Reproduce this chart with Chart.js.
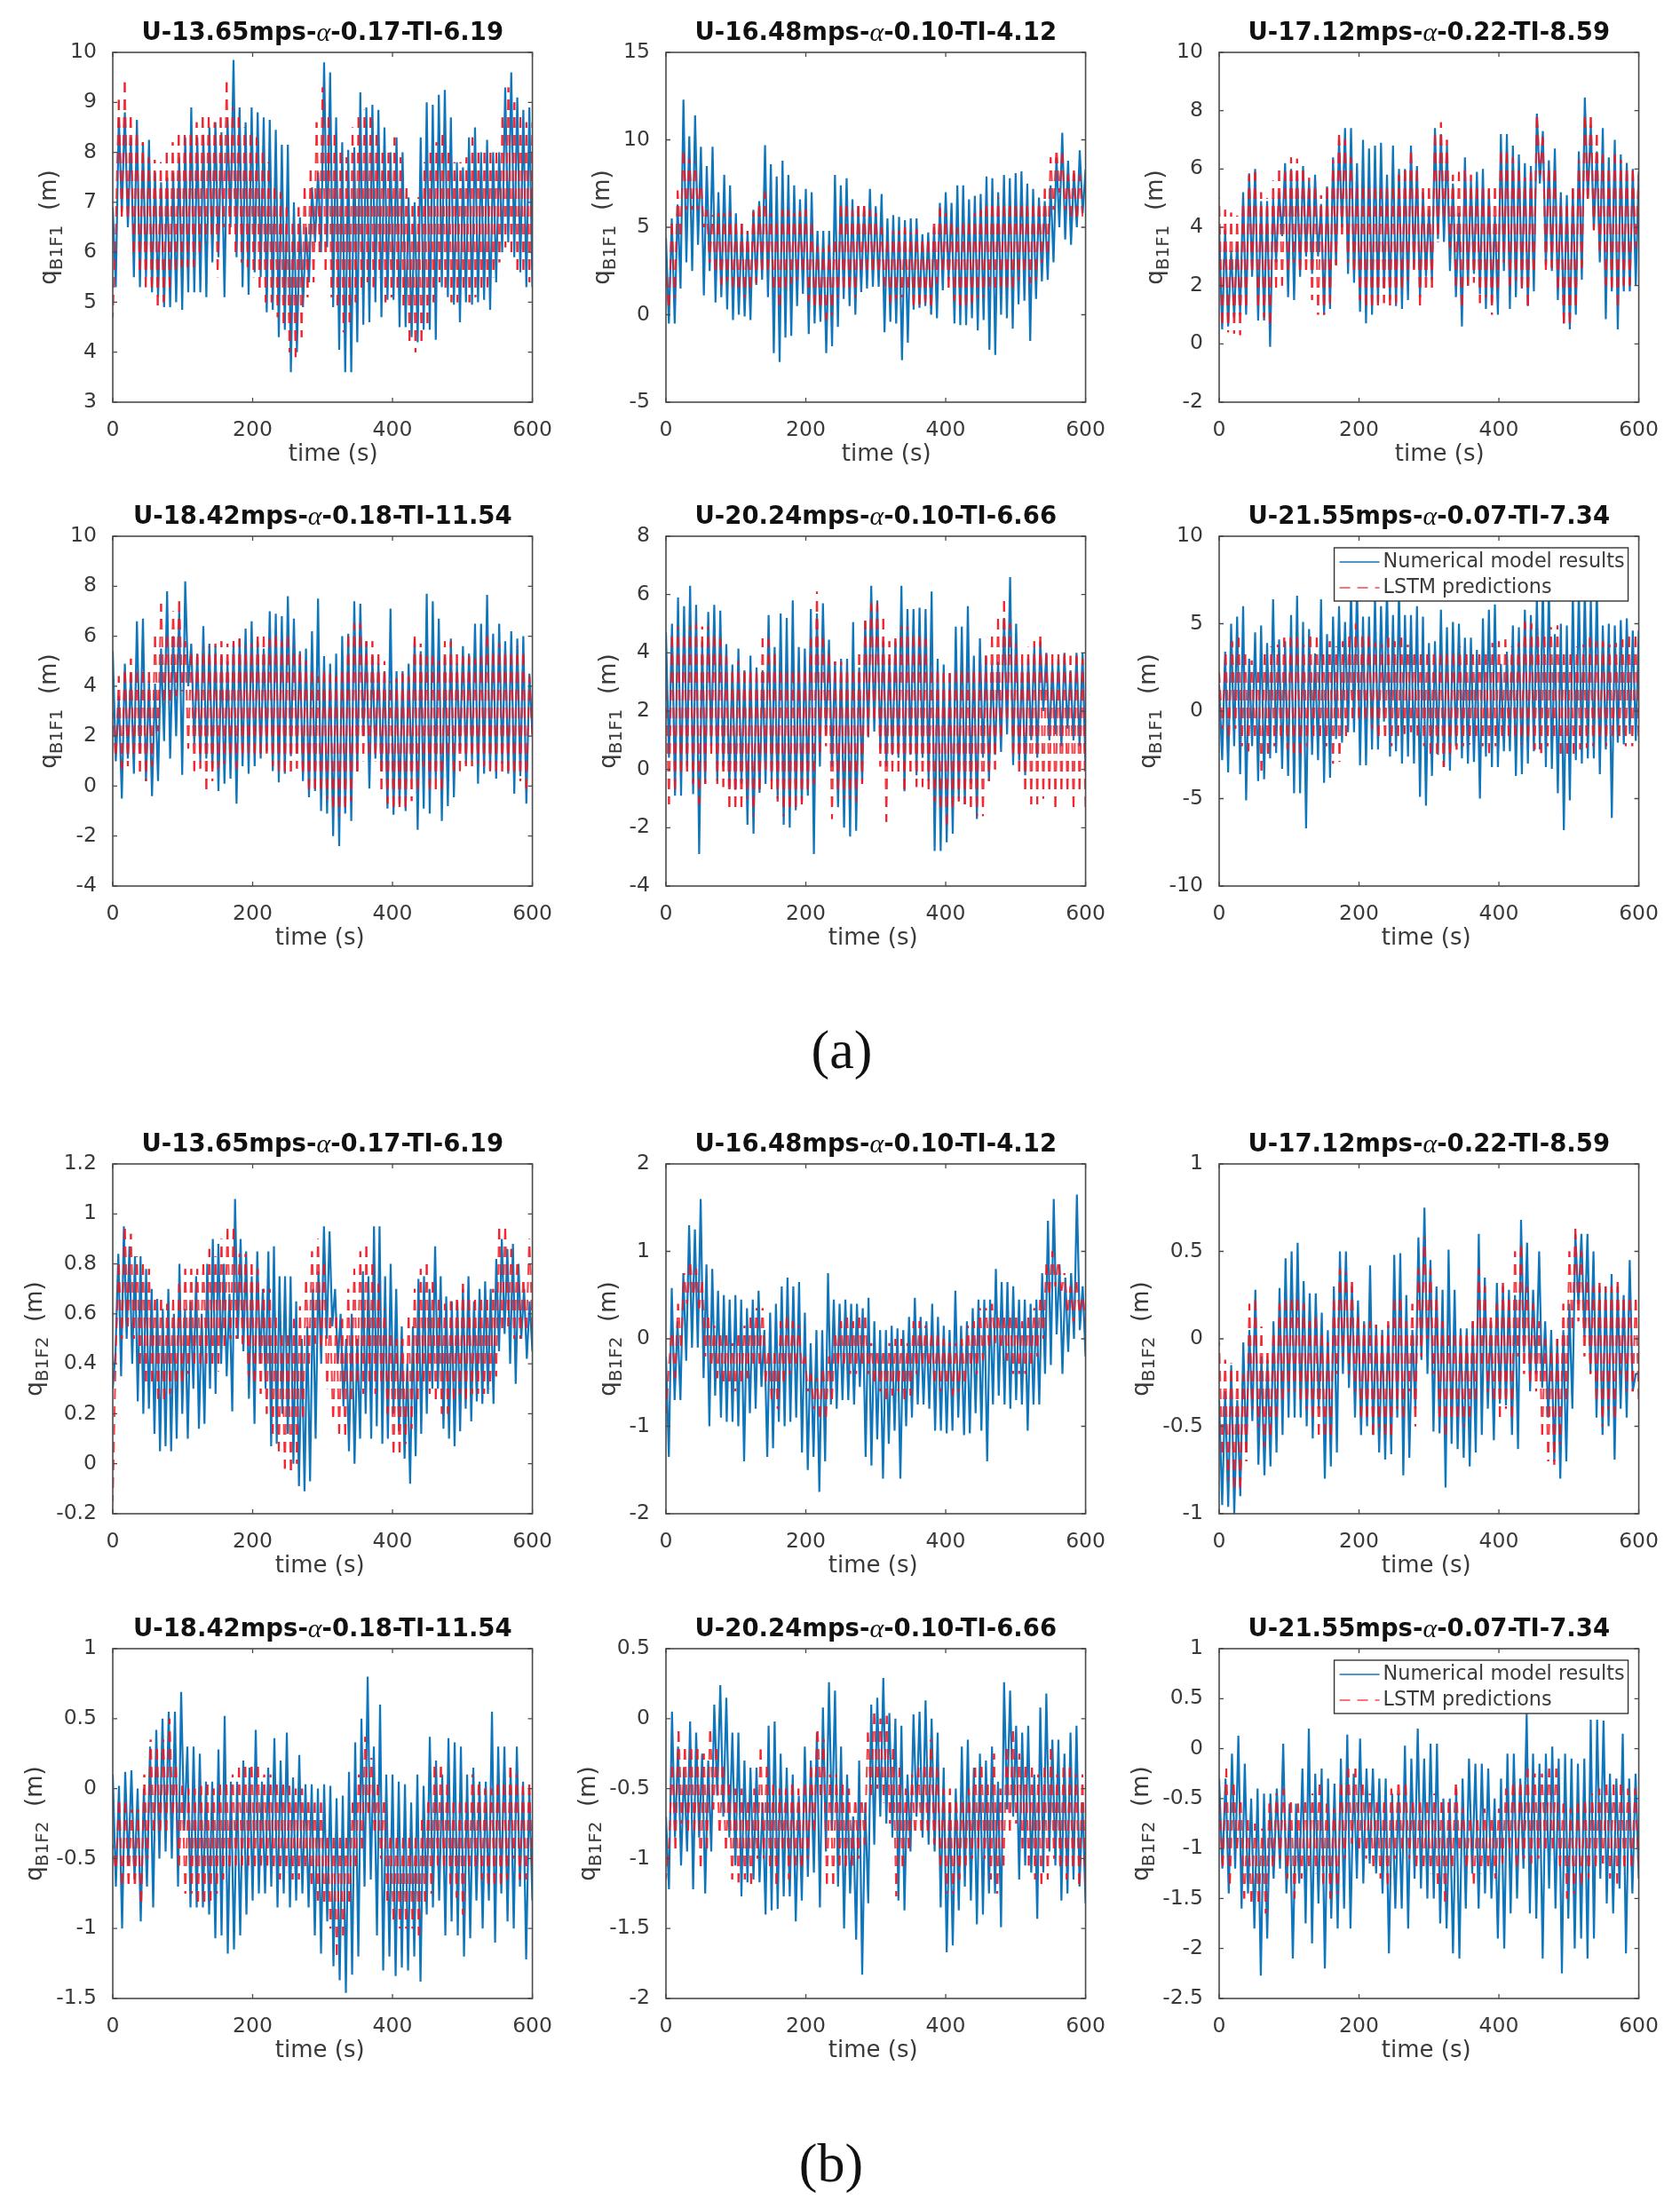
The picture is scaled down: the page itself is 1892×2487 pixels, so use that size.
<!DOCTYPE html>
<html>
<head>
<meta charset="utf-8">
<title>q B1F1 and q B1F2 time series</title>
<script src="https://cdn.jsdelivr.net/npm/chart.js@4"></script>
<style>
  html, body { margin: 0; background: #fff; }
  #page { position: relative; width: 1892px; height: 2487px; overflow: hidden; }
  #page canvas { position: absolute; filter: blur(0.6px); }
  .caption { position: absolute; font: 62px "Liberation Serif", serif; color: #111; transform: translate(-50%, -50%); }
</style>
</head>
<body>
<div id="page">
  <div class="caption" style="left:948px;top:1182px">(a)</div>
  <div class="caption" style="left:936px;top:2436px">(b)</div>
</div>
<script>
const titles = ['U-13.65mps-α-0.17-TI-6.19', 'U-16.48mps-α-0.10-TI-4.12', 'U-17.12mps-α-0.22-TI-8.59',
                'U-18.42mps-α-0.18-TI-11.54', 'U-20.24mps-α-0.10-TI-6.66', 'U-21.55mps-α-0.07-TI-7.34'];
const xTicks = [0, 200, 400, 600];
const f1YTicks = [[3,4,5,6,7,8,9,10], [-5,0,5,10,15], [-2,0,2,4,6,8,10], [-4,-2,0,2,4,6,8,10], [-4,-2,0,2,4,6,8], [-10,-5,0,5,10]];
const f2YTicks = [[-0.2,0,0.2,0.4,0.6,0.8,1,1.2], [-2,-1,0,1,2], [-1,-0.5,0,0.5,1], [-1.5,-1,-0.5,0,0.5,1], [-2,-1.5,-1,-0.5,0,0.5], [-2.5,-2,-1.5,-1,-0.5,0,0.5,1]];

const f1Model1 = [6.9,5.3, 8.7,6.8, 8.8,6.5, 8.3,5.5, 8.65,5.3, 8.2,5.5, 8.25,5.2, 7.6,5.1, 7.4,4.9, 7.5,4.9, 7.6,5.0, 7.9,4.85, 8.3,5.2, 8.9,5.2, 8.3,5.2, 8.35,5.1, 8.5,5.8, 8.6,5.9, 8.4,5.1, 8.7,6.5, 9.85,5.9, 8.9,5.3, 8.6,5.15, 8.9,5.6, 8.8,5.5, 8.7,4.8, 8.65,4.85, 8.45,4.3, 8.15,4.45, 8.15,3.6, 7.0,4.0, 6.7,4.9, 6.5,5.4, 7.3,6.2, 7.6,6.0, 9.8,6.1, 9.6,4.9, 8.7,4.05, 8.2,3.6, 8.05,3.6, 8.1,4.2, 9.2,4.55, 8.9,4.6, 8.95,5.0, 8.85,4.7, 8.5,5.05, 8.0,5.05, 8.3,4.5, 8.0,4.5, 7.1,4.3, 7.0,4.2, 8.3,4.45, 9.0,4.45, 8.95,4.25, 9.15,5.3, 9.25,5.1, 8.7,4.95, 7.8,4.6, 7.7,5.0, 8.3,4.95, 8.5,5.0, 8.0,5.05, 8.25,4.85, 8.0,5.4, 8.0,6.0, 9.3,6.2, 9.6,5.9, 9.1,5.6, 8.85,5.3, 8.9,5.3];
const f1Lstm1 = [4.7,6.4, 9.05,6.7, 9.4,6.6, 8.8,6.0, 8.5,5.6, 8.2,5.3, 7.9,5.2, 7.85,4.9, 7.8,5.0, 8.0,5.3, 8.2,5.6, 8.4,5.7, 8.35,5.7, 8.4,5.7, 8.6,6.0, 8.8,6.2, 8.75,6.3, 8.6,5.5, 8.7,6.5, 9.4,6.3, 8.9,6.0, 8.7,5.8, 8.5,5.7, 8.4,5.5, 8.3,5.2, 8.0,5.0, 7.8,5.0, 7.4,4.7, 7.2,4.5, 6.9,4.0, 6.6,3.9, 6.9,4.3, 7.4,5.1, 7.7,5.4, 8.6,6.0, 9.3,5.6, 8.8,5.1, 8.4,4.8, 8.0,4.4, 7.9,4.6, 8.5,5.0, 8.8,5.2, 8.85,5.4, 8.7,5.3, 8.45,5.5, 8.05,5.0, 8.05,5.1, 8.3,5.2, 7.9,4.9, 7.4,4.2, 7.0,4.0, 7.1,4.2, 7.8,4.5, 8.0,5.0, 8.2,5.4, 8.4,5.2, 8.1,5.0, 7.8,5.0, 7.8,5.2, 7.9,5.0, 8.3,5.1, 8.0,5.2, 8.0,5.3, 8.0,5.5, 8.0,5.8, 8.7,6.1, 9.3,6.0, 9.0,5.6, 8.8,5.6, 8.6,5.4, 8.6];

const f1Model2 = [4.4,-0.5, 5.5,-0.5, 6.3,1.5, 12.3,3, 10.2,2.5, 11.4,4, 9.6,1.1, 8.5,2.5, 9.6,0.7, 7,1, 8,0.3, 7.4,-0.3, 5.8,0, 5.2,-0.1, 4.8,-0.3, 6,1.7, 6.5,2, 9.7,1, 8.6,-2.2, 7.9,-2.7, 8.8,-1.3, 8,-1.2, 7.4,0.5, 6.6,1.2, 7.2,-1.1, 7,-0.5, 4.8,-0.4, 4.8,-2.2, 4.8,-1.8, 8,-0.7, 7.4,0.9, 7.8,0.5, 6.6,0, 6.2,1.3, 6.2,1.5, 7.2,1.6, 6.2,1.6, 6.9,-1, 5.5,-0.4, 5.7,-0.5, 5.6,-2.6, 5.4,-1.6, 5.5,0.3, 5.5,0.4, 4.6,0.5, 4.7,0, 5,-0.2, 6.4,1.4, 7,2, 6.4,-0.5, 7.4,-0.6, 7.4,-0.6, 6.6,-0.2, 6.8,-0.9, 6.9,-0.3, 7.9,-2, 7.8,-2.3, 7,0, 8,-0.2, 7.8,-0.8, 8.1,0.6, 8.2,0.8, 7.5,-1.5, 7.2,0.9, 6.7,1.9, 6.5,2, 7.4,3, 9,5, 10.4,4.3, 8.8,4, 8.1,5, 9.4,5.8, 8.3];
const f1Lstm2 = [2.5,0.2, 5.4,1, 7.1,4.5, 9.5,6, 8.9,6, 8.7,6, 7.6,5, 6,3, 5.7,2.3, 5.8,1.7, 5.8,1.9, 5.9,1.6, 5.2,1.2, 5.2,1, 4.8,1.2, 5.9,1.8, 6.5,2.4, 7,2.6, 5.8,1.2, 5.5,0.2, 6,1.5, 6,1.8, 5.8,2, 5.9,2.2, 6,0.8, 5.2,0.4, 3.9,0.2, 3.8,-0.3, 4,0, 4.6,1, 6.3,1.5, 6.2,1.4, 6,1, 6.3,2.3, 6.4,2.4, 6,2.2, 5.8,2.2, 5,1.6, 4.3,0.7, 4.8,0.9, 4.8,1, 5,1.2, 4.7,0.5, 4.9,0.6, 4.4,0.7, 4.5,0.1, 5.6,1.8, 6.1,2.3, 5.8,1.5, 5.3,0.8, 5,0.4, 5.2,0.5, 5.4,0.7, 5.8,1, 6,1, 6.2,1.6, 6.6,1.5, 6.7,1.6, 6.4,1.5, 6.4,1.5, 6.4,2, 6.3,2.2, 6.2,1.8, 6.4,2, 6.6,3, 7.2,3.2, 9,6, 9.6,7, 9.2,6, 8,5.6, 8.4,5.2, 8,5.5, 5.4];

const f1Model3 = [4,0.5, 3.9,0.6, 3.2,0.9, 3.5,1, 5.2,1, 5.85,2.3, 6,0.8, 4.9,0.8, 4.9,-0.1, 5,2.8, 5.2,3.7, 6.2,1.6, 6,1.5, 5.9,2.3, 6.1,3, 5.6,2.4, 5.8,3, 4.8,1, 5.4,1.2, 6.4,2.7, 7,4, 7.4,2.4, 7.4,2.1, 6.2,1.1, 7,0.7, 6.7,1, 6.8,1.4, 6.9,1.9, 5.8,1.5, 6.8,1.3, 6,1.2, 6,1.5, 6.8,2.6, 6.1,1.6, 5.2,2.3, 4.6,2.2, 7.4,3.6, 7.2,3.5, 6.8,2.5, 5.5,1.6, 4.5,0.6, 6.4,2, 5.6,2.4, 5.9,1.7, 6,1.2, 5.3,1.4, 4.4,1, 7.2,2.5, 7.2,1.2, 6.8,1.6, 6.5,1.9, 6.2,1.3, 6.1,1.8, 7.9,5.5, 7.3,2.7, 6.3,2.5, 6.7,1.5, 5.2,0.7, 5.1,0.5, 5.3,1, 6.6,2.2, 8.45,5, 7.5,3.9, 6.6,2.8, 7.4,0.85, 6.4,1.8, 7,0.5, 6.5,1.8, 6.2,1.8, 6,2, 5.9];
const f1Lstm3 = [5,0.6, 4.6,0.4, 4.5,0.35, 4.4,0.3, 5,1.2, 5.8,2.3, 5.9,1.3, 5.2,0.9, 5,0.7, 5.6,1.9, 6,2, 5.9,2.3, 6.4,2.8, 6.35,2.3, 6.1,2.3, 5.7,1.5, 5.6,1, 5.1,1, 5.4,1.4, 6.3,2.7, 7.3,3.7, 7,2.8, 6.4,2.3, 5.4,1.5, 5.4,1.3, 5.4,1.1, 5.4,1.3, 5.4,1.4, 5.4,1.2, 5.4,1.4, 5.8,1.8, 6.1,2.2, 6.8,2.4, 6,1.2, 5.4,1.7, 5.5,1.9, 7.2,3.5, 7.6,4.2, 7,3.3, 5.8,2, 5.9,1.1, 6,2, 5.8,2.1, 5.4,1.4, 5.5,1.6, 5.4,1, 5.5,1.8, 6.6,2.8, 6.6,2, 6.4,2.2, 6.2,1.8, 5.7,1.2, 5.9,2.3, 7.95,5.8, 7.1,2.4, 6.2,2.6, 6.2,1.9, 5,0.7, 4.9,0.6, 5.4,1.1, 6.3,2.6, 7.8,4.8, 8,3.9, 7.2,3.2, 6.5,2, 6.2,1.8, 6.5,1.2, 6.3,2, 6.2,2, 6,3.3, 5.8];

const f1Model4 = [5.4,1, 3.6,-0.5, 4.9,1.1, 4.5,0.5, 6.6,1.3, 6.7,0.2, 4.2,-0.4, 4.1,0.2, 5.5,1.8, 7.8,1.1, 6,2, 7,0.45, 8.2,4, 5.7,1.7, 5.3,1, 6.4,1.1, 5.7,0.7, 5.6,-0.2, 5.2,0.1, 5,0.3, 5.8,-0.7, 5.9,0.8, 6.3,0.5, 6.6,0.8, 5.8,1.1, 5.5,1.4, 7,0.6, 6.9,0.15, 6.8,0.5, 7.6,1.2, 6.7,1.3, 5.4,0.2, 5.5,-0.45, 6.2,-0.2, 7.5,-1, 5.2,-1.1, 4.9,-2, 5.3,-2.4, 6,-1.1, 6.1,-1.4, 7.4,0.6, 7.3,2, 5.8,-0.1, 5.2,1.1, 4.9,0.6, 4.6,-0.9, 7.1,-1.15, 4.6,-0.7, 4.6,-1, 4.9,0.3, 5.9,-1.75, 5.4,-0.9, 7.7,-1.1, 7.4,0.3, 6.7,-1.4, 5.2,-0.8, 5.9,-0.45, 4.9,1.4, 5.6,0.9, 5.3,1, 6.5,0.1, 6.5,0.5, 7.65,0.6, 6.1,0.3, 6.5,0.9, 5.8,0.5, 6.2,-0.3, 5.9,0.4, 6,-0.7, 4.5,2.1];
const f1Lstm4 = [3,1, 4.4,0.7, 4.8,0.8, 5.1,1.2, 4.7,0.5, 4.7,0.2, 4.7,0.8, 6,2.2, 7.3,3.4, 6.1,3.2, 7,3.6, 7.4,3.8, 5.8,1.5, 5.4,0.6, 5.5,0.7, 5.6,-0.2, 5.6,0.2, 5.7,0.7, 5.8,0.9, 5.7,1, 5.8,0.7, 5.9,1.2, 5.6,1.3, 5.7,1.2, 6.1,1.2, 6.1,1.3, 5.9,0.8, 6,0.6, 5.8,0.5, 6.1,0.4, 5.6,0.7, 5.3,0.3, 5,-0.3, 4.6,-0.1, 4.4,-0.4, 4.6,-0.5, 4.5,-1, 4.4,-1.2, 4.7,-1.1, 6,-0.6, 6.5,0.4, 6.5,1, 5.8,1, 5.8,1, 5.4,-0.2, 5,-0.7, 4.2,-0.9, 4.3,-1, 4.5,-0.9, 4.4,-0.6, 6.1,-0.2, 5.7,0.8, 5.2,-0.2, 5.2,-0.2, 5,-0.4, 5.8,1.1, 5.8,0.6, 5.3,0.6, 5.2,0.8, 5.2,0.8, 5.1,0.9, 5.2,0.8, 6.1,0.6, 5.3,0.6, 5.7,0.5, 5.5,0.6, 5.4,0.4, 5.6,0.2, 5.5,-0.1, 4.4,1.9];

const f1Model5 = [4.7,0.4, 5,-0.9, 5.9,-0.9, 5.6,0.1, 6.3,-0.85, 5.65,-2.9, 4.4,-0.5, 5.4,0.8, 5.65,-0.4, 5.45,0.1, 4.3,-0.6, 3.6,-0.7, 4.15,-0.5, 3.4,-1.9, 3.9,-2.2, 3.5,-0.8, 3.4,-0.5, 5.3,-0.4, 4.2,-1, 5.35,-1.9, 5.2,-2, 5.8,-1.4, 4.2,-1.2, 4.15,-0.9, 5.5,-2.9, 5.35,0.1, 5.7,1.2, 4.45,0.1, 3.7,-1.3, 3.8,-2, 3.8,-2.3, 5.05,-2.1, 3.5,-0.5, 5.1,1.1, 6.3,1.3, 5.8,0.7, 4.4,0.1, 3.8,0.5, 4.4,0.4, 6.3,-0.75, 5.5,0.5, 5.5,-0.2, 5.55,0.4, 5.5,-0.4, 6.1,-2.8, 3.8,-2.8, 3.6,-2.5, 3.3,-2.2, 4.9,-1, 4.9,-1.2, 5.6,-0.5, 3.9,-1.7, 4.5,0.4, 3.9,-0.4, 3.6,0.5, 3.7,0.6, 5.2,1.2, 6.6,0.15, 5,0.3, 3.6,-0.2, 3.8,1, 4.2,0.4, 4.4,2, 4,1, 3.6,1.2, 3.8,0.8, 4,1.4, 3.4,1, 4,0.8, 4,0];
const f1Lstm5 = [2.9,-1.2, 4.6,-0.8, 4.9,-0.3, 4.7,-0.2, 4.9,-0.5, 5,-1.2, 4.9,-0.5, 4.9,0.5, 4.7,-0.5, 4.5,-0.6, 3.9,-1.5, 3.5,-1.5, 3.7,-1.4, 3.5,-1, 3.5,-1.6, 3.4,-0.8, 4.5,0, 4.5,-0.7, 4,-1.1, 3.6,-1.6, 3.6,-1.5, 3.5,-1.3, 3.5,-1.2, 3.5,-0.9, 4.5,-0.5, 6.1,0.6, 4.5,0.8, 4,-1.7, 3.7,-0.8, 3.7,-1, 3.6,-1, 3.5,-1.1, 4,-0.5, 5.1,1.1, 5.7,1.6, 5.7,0.1, 5.2,-1.8, 4.4,-0.2, 4.5,-0.1, 4.9,-0.7, 4.9,-0.3, 4.7,-0.6, 4.7,-0.6, 4.5,-0.8, 3.6,-1.1, 3.5,-1.4, 3.3,-1.9, 3.3,-1.4, 3.5,-1.1, 3.6,-1.2, 3.6,-1.5, 3.5,-1.6, 3.6,-1.6, 3.9,-0.4, 4.7,0, 5.2,1, 5.8,1.5, 5,0.3, 4.3,-0.3, 4,-0.9, 4.2,-1.2, 4.4,-1.2, 4.75,-1, 4.1,-0.9, 4.1,-1.3, 4,-0.9, 4,-0.9, 3.9,-1.4, 3.9,-0.8, 3.8,-1.4];

const f1Model6 = [1.5,-2.8, 3.4,-3.5, 5,-2, 5.4,-3.6, 6,-5.1, 3,-2, 4.5,-4, 4.9,-3.9, 3.9,-2.7, 6.4,-2.4, 4.1,-3.3, 4,-3.7, 5.5,-4.7, 6.6,-4.7, 5.1,-6.7, 4.7,-2.5, 3.3,-2.8, 6.4,-4.1, 4.4,-3.8, 5.4,-1.6, 6,-1.8, 5.1,-1.2, 6.8,-1.2, 7.2,-3.1, 5.4,-3.1, 5.4,-2.2, 6.5,-2.2, 6,-0.6, 7,-2.6, 5.5,-2.3, 6.9,-3, 5.5,-2.6, 5.5,-3, 6,-4.9, 5.4,-5.4, 3.9,-3.7, 4,-2.5, 5.8,-3.2, 4.8,-3.4, 5.1,-2, 5,-2.7, 4.2,-3, 4.2,-2.9, 3.5,-5, 5.3,-2.6, 5.8,-3.2, 6.1,-3.2, 2.7,-2.3, 3.4,-2.3, 4.9,-3.7, 4.8,-3.6, 5.8,-3, 5.5,-2.3, 6.5,-2.2, 7.2,-3.2, 7.2,-3.3, 4.4,-4.7, 5,-6.8, 4.9,-5.1, 6.7,-2.8, 7,-3, 7,-2.7, 6.4,-2.7, 7.2,-3.6, 4.9,-2.2, 5,-6.1, 4.9,-1.8, 5.2,-1.9, 5.3,-1.3, 4.6,-1.7, 4.6];
const f1Lstm6 = [2.2,-1, 3.3,-1.5, 4,-1, 4.2,-2, 3.4,-2.3, 2.9,-1.5, 2.5,-3.4, 3.5,-2.5, 3.7,-2, 3.8,-1.8, 4.2,-2.2, 4.2,-2.4, 4.2,-2.6, 3.8,-2, 4.6,-1.5, 4.2,-1.7, 3.6,-2, 4,-3, 3.7,-2.9, 4,-1.5, 4.6,-0.5, 5,-0.6, 4.5,-0.8, 4.4,-1, 3.9,-1.6, 3.8,-1.8, 4.2,-2, 4,-1.6, 4.2,-1.3, 3.8,-1.2, 3.6,-1.4, 3.5,-2, 3.6,-2.6, 3.4,-2.6, 3.3,-3.2, 3.4,-2.6, 3.3,-2.2, 3.7,-2, 3.6,-1.9, 3.5,-1.8, 3.4,-2, 3.3,-2.4, 3.9,-2, 4,-1.8, 4.1,-1.5, 3.7,-1.6, 3.9,-1.9, 5.1,-1.7, 5,-2.2, 4.7,-2.4, 4.6,-2, 4.8,-1.6, 4.9,-2.5, 3.4,-2.7, 3.5,-2.5, 3.7,-2.2, 3.8,-2.1, 4.2,-2, 4,-1.8, 4,-2, 3.8,-1.6, 3.9,-1.7, 4.1,-2, 4.4,-2, 4.4,-1.8];

const f2Model1 = [0.3,0.45, 0.84,0.35, 0.95,0.5, 0.87,0.4, 0.83,0.25, 0.83,0.2, 0.78,0.22, 0.7,0.12, 0.66,0.05, 0.62,0.07, 0.7,0.05, 0.6,0.1, 0.8,0.2, 0.62,0.1, 0.65,0.3, 0.75,0.14, 0.6,0.16, 0.8,0.3, 0.9,0.28, 0.88,0.4, 0.8,0.35, 0.68,0.21, 1.06,0.5, 0.9,0.45, 0.85,0.26, 0.75,0.16, 0.85,0.4, 0.7,0.3, 0.85,0.07, 0.87,0.08, 0.75,0.2, 0.75,0.12, 0.75,0, 0.65,-0.09, 0.5,-0.11, 0.55,-0.07, 0.7,0.1, 0.77,0.4, 0.95,0.5, 0.93,0.55, 0.7,0.4, 0.6,0.23, 0.5,0.05, 0.6,0, 0.5,0.1, 0.77,0.2, 0.75,0.1, 0.95,0.15, 0.95,0.08, 0.75,0.1, 0.8,0.2, 0.7,0.13, 0.55,0.02, 0.4,-0.08, 0.55,0.03, 0.74,0.12, 0.75,0.2, 0.7,0.3, 0.87,0.3, 0.75,0.14, 0.67,0.1, 0.65,0.07, 0.65,0.13, 0.7,0.22, 0.75,0.17, 0.65,0.25, 0.7,0.24, 0.73,0.28, 0.7,0.24, 0.82,0.45, 0.9,0.52, 0.86,0.4, 0.88,0.32, 0.8,0.5, 0.7,0.42, 0.65,0.45];
const f2Lstm1 = [-0.15,0.45, 0.8,0.5, 0.95,0.55, 0.92,0.5, 0.83,0.4, 0.8,0.32, 0.78,0.32, 0.68,0.26, 0.67,0.25, 0.64,0.28, 0.66,0.3, 0.72,0.3, 0.78,0.36, 0.78,0.38, 0.78,0.4, 0.8,0.4, 0.86,0.38, 0.83,0.37, 0.9,0.46, 0.94,0.5, 0.94,0.5, 0.84,0.48, 0.84,0.35, 0.82,0.3, 0.78,0.28, 0.7,0.2, 0.7,0.12, 0.6,0.05, 0.53,-0.02, 0.53,-0.05, 0.58,0, 0.63,0.16, 0.75,0.4, 0.85,0.48, 0.9,0.45, 0.8,0.3, 0.6,0.16, 0.6,0.12, 0.58,0.1, 0.7,0.25, 0.78,0.3, 0.85,0.28, 0.88,0.3, 0.8,0.28, 0.72,0.3, 0.62,0.2, 0.54,0.03, 0.5,0.03, 0.5,0.08, 0.6,0.14, 0.7,0.25, 0.78,0.3, 0.8,0.28, 0.75,0.25, 0.66,0.2, 0.64,0.2, 0.65,0.25, 0.68,0.28, 0.72,0.26, 0.66,0.28, 0.66,0.28, 0.68,0.28, 0.66,0.3, 0.7,0.35, 0.95,0.52, 0.95,0.55, 0.86,0.5, 0.82,0.5, 0.75,0.52, 0.9,0.55];

const f2Model2 = [-0.2,-1.35, 0.58,-0.7, 0.2,-0.7, 0.75,-0.25, 1.3,-0.1, 1.25,-0.1, 1.6,-0.45, 0.85,-1, 0.8,-0.65, 0.55,-0.9, 0.5,-0.95, 0.45,-0.95, 0.5,-1, 0.45,-1.4, 0.35,-0.85, 0.45,-0.8, 0.55,-0.55, 0.1,-1.35, 0.3,-1.25, 0.4,-0.95, 0.6,-1, 0.7,-0.95, 0.6,-0.9, 0.65,-1.3, 0.3,-1.5, -0.05,-1.35, 0.1,-1.75, 0.1,-1.4, 0.75,-0.75, 0.45,-0.8, 0.4,-0.7, 0.45,-0.7, 0.4,-0.75, 0.4,-0.55, 0.35,-1.35, 0.47,-1.45, 0.2,-1.15, 0.1,-1.6, 0.1,-1.2, 0.15,-1.05, 0.12,-1.6, 0.1,-1, 0.25,-0.9, 0.47,-0.75, 0.25,-0.75, 0.2,-0.8, 0.4,-1.05, 0.25,-1.05, 0.15,-1.08, 0.1,-1.05, 0.55,-0.9, 0.15,-1.1, 0.2,-1.08, 0.35,-0.85, 0.45,-1.05, 0.45,-1.4, 0.45,-0.75, 0.8,-0.65, 0.65,-0.75, 0.65,-0.8, 0.6,-0.7, 0.45,-0.75, 0.45,-1.05, 0.4,-0.75, 0.45,-0.75, 0.75,-0.4, 1.35,-0.3, 1.6,0.05, 0.85,-0.4, 0.7,-0.15, 0.75,0, 1.65,0.1, 0.6,-0.2];
const f2Lstm2 = [-0.85,-0.3, 0.1,-0.45, 0.4,-0.1, 0.75,0.4, 0.9,0.45, 0.8,0.35, 0.65,-0.2, 0.3,-0.35, 0.15,-0.45, 0.1,-0.55, 0.05,-0.55, -0.05,-0.6, 0.1,-0.55, 0.15,-0.45, 0.25,-0.35, 0.35,-0.3, 0.35,-0.5, -0.1,-0.7, -0.15,-0.8, 0.2,-0.5, 0.25,-0.4, 0.2,-0.35, 0.15,-0.35, -0.2,-0.6, -0.4,-0.8, -0.45,-0.9, -0.3,-0.9, -0.2,-0.7, 0.1,-0.3, 0.2,-0.3, 0.25,-0.4, 0.2,-0.4, 0.3,-0.35, 0.25,-0.4, -0.05,-0.5, -0.1,-0.6, -0.1,-0.7, -0.05,-0.65, 0,-0.6, 0,-0.7, -0.05,-0.65, 0.2,-0.4, 0.2,-0.3, 0.15,-0.35, 0.05,-0.5, 0.05,-0.6, 0,-0.55, -0.05,-0.65, -0.05,-0.6, 0,-0.55, 0.15,-0.35, 0.2,-0.4, 0.35,-0.25, 0.35,-0.1, 0.4,-0.05, 0.3,-0.1, 0.25,-0.25, 0.3,-0.4, 0.25,-0.4, 0.2,-0.4, 0.25,-0.3, 0.35,-0.2, 0.5,0, 0.85,0.5, 1,0.6, 0.9,0.55, 0.75,0.3, 0.6,0.2, 0.65,0.3, 0.5,0.2];

const f2Model3 = [-0.35,-0.95, -0.3,-0.96, -0.15,-1, -0.35,-0.9, -0.02,-0.65, 0.05,-0.47, 0.28,-0.72, -0.1,-0.78, -0.12,-0.73, 0.1,-0.65, 0.29,-0.55, 0.46,-0.45, 0.5,-0.45, 0.55,-0.45, 0.33,-0.5, 0.26,-0.57, 0.26,-0.4, 0.15,-0.8, 0.05,-0.73, 0.3,-0.65, 0.5,-0.2, 0.5,-0.28, 0.3,-0.45, 0.22,-0.55, 0.1,-0.5, 0.42,-0.55, 0.08,-0.65, 0.05,-0.69, 0.08,-0.66, 0.48,-0.45, 0.49,-0.78, 0.25,-0.68, 0.05,-0.4, 0.58,-0.12, 0.75,-0.2, 0.45,-0.53, 0.3,-0.54, 0.28,-0.85, 0.51,-0.6, 0.28,-0.63, 0.06,-0.68, 0.06,-0.73, 0.1,-0.65, 0.6,-0.55, 0.35,-0.4, 0.1,-0.58, 0.32,-0.37, 0.3,-0.38, 0.28,-0.55, 0.25,-0.63, 0.68,-0.08, 0.55,-0.3, 0.28,-0.2, 0.5,-0.28, 0.1,-0.45, 0.05,-0.7, 0,-0.8, 0.05,-0.7, 0.2,-0.4, 0.6,0.2, 0.6,0.01, 0.6,-0.2, 0.5,-0.45, 0.3,-0.55, 0.3,-0.5, 0.37,-0.69, 0.3,-0.4, 0.25,-0.45, 0.45,-0.3, -0.2,-0.2];
const f2Lstm3 = [-0.02,-0.65, -0.12,-0.8, -0.14,-0.85, -0.18,-0.85, -0.2,-0.7, 0.2,-0.4, 0.22,-0.5, 0.07,-0.62, -0.05,-0.55, 0.05,-0.45, 0.2,-0.35, 0.24,-0.3, 0.22,-0.3, 0.25,-0.35, 0.2,-0.4, 0.1,-0.45, 0.15,-0.55, 0.05,-0.58, -0.02,-0.55, 0.22,-0.2, 0.4,-0.1, 0.38,-0.2, 0.35,-0.3, 0.15,-0.45, 0.08,-0.45, 0.1,-0.55, 0.08,-0.5, 0.05,-0.55, 0.1,-0.55, 0.22,-0.4, 0.25,-0.45, 0.1,-0.3, 0.2,-0.5, 0.4,-0.1, 0.58,0, 0.4,-0.2, 0.25,-0.45, 0.1,-0.55, 0.05,-0.45, 0.05,-0.45, 0.05,-0.5, 0.05,-0.45, 0.1,-0.35, 0.4,-0.15, 0.3,-0.3, 0.15,-0.35, 0.2,-0.45, 0.32,-0.4, 0.25,-0.45, 0.5,-0.1, 0.55,-0.2, 0.3,-0.25, 0.2,-0.3, 0.1,-0.55, 0,-0.7, -0.05,-0.72, 0,-0.6, 0.2,-0.35, 0.5,0.05, 0.63,0.1, 0.5,-0.1, 0.35,-0.2, 0.3,-0.35, 0.32,-0.5, 0.3,-0.4, 0.3,-0.45, 0.35,-0.2, 0.25,-0.3, 0.25,-0.3, 0.25,-0.35];

const f2Model4 = [0.1,-0.7, 0.02,-1, 0.12,-0.55, 0.13,-0.65, 0,-0.95, 0,-0.7, 0.3,-0.85, 0.42,-0.5, 0.5,-0.45, 0.55,-0.5, 0.55,-0.7, 0.69,-0.3, 0.3,-0.85, 0.3,-0.85, 0.25,-0.85, 0.05,-0.9, 0.05,-1.07, 0.28,-1.05, 0.52,-1.18, 0.05,-1.15, 0.05,-1.05, 0.2,-0.9, 0.15,-0.8, 0.42,-0.75, 0.05,-0.75, 0.15,-0.7, 0.36,-0.85, 0.2,-0.75, 0.4,-0.85, 0.08,-0.8, 0.24,-0.75, 0.03,-0.85, 0.03,-1.05, 0,-1.18, 0.03,-0.95, 0.02,-1.27, -0.07,-1.37, -0.05,-1.46, 0.12,-1.33, 0.33,-1.2, 0.5,-0.7, 0.8,-0.65, 0.3,-1.05, 0.6,-1.3, 0.1,-1.2, 0.1,-1.34, 0.05,-1.28, 0.03,-1.3, -0.1,-1.2, 0.1,-1.38, 0.02,-0.9, 0.37,-0.85, 0.2,-0.8, 0.1,-1.05, 0.36,-0.95, 0.33,-1.05, 0.3,-1.2, 0.1,-1.07, 0.15,-0.8, 0.05,-1, 0.05,-0.8, 0.55,-1.1, 0.3,-0.75, 0.3,-0.95, 0.15,-1, 0.3,-0.7, 0.05,-1.22, 0,-0.8];
const f2Lstm4 = [-0.4,-0.6, -0.05,-0.7, -0.1,-0.7, -0.15,-0.72, -0.15,-0.85, 0.1,-0.5, 0.35,-0.3, 0.3,-0.35, 0.35,-0.3, 0.5,-0.2, 0.2,-0.55, 0.02,-0.75, 0,-0.75, 0,-0.85, 0.02,-0.85, 0.05,-0.8, 0,-0.75, 0.05,-0.65, 0.07,-0.6, 0.1,-0.55, 0.15,-0.55, 0.18,-0.55, 0.2,-0.6, 0.2,-0.55, 0.1,-0.55, 0.1,-0.6, 0.05,-0.65, 0.05,-0.6, 0.02,-0.65, 0,-0.65, 0,-0.6, -0.05,-0.7, -0.1,-0.8, -0.1,-0.85, -0.3,-1, -0.33,-1.2, -0.3,-1.05, -0.32,-0.85, -0.1,-0.6, 0.1,-0.45, 0.37,-0.2, 0.22,-0.35, 0.03,-0.5, -0.05,-0.8, -0.3,-0.95, -0.3,-1, -0.35,-1, -0.3,-1, -0.33,-1.05, -0.2,-0.85, -0.05,-0.75, 0.18,-0.55, 0.2,-0.6, 0.05,-0.7, -0.1,-0.78, -0.1,-0.9, -0.05,-0.6, 0.1,-0.6, 0.05,-0.65, 0,-0.7, 0,-0.7, 0.05,-0.7, 0.05,-0.65, 0.15,-0.5, 0.1,-0.65, 0.02,-0.65, 0.05,-0.6];

const f2Model5 = [-0.7,-1.22, 0.05,-0.85, -0.2,-1.05, -0.35,-0.95, -0.02,-1.22, -0.1,-0.85, -0.25,-1.25, -0.3,-0.95, 0.1,-0.55, 0.24,-0.7, 0.15,-0.85, -0.1,-1.05, -0.1,-1.27, -0.3,-1.17, -0.35,-1.15, -0.35,-1.17, -0.6,-1.4, -0.05,-1.37, -0.02,-1.36, -0.25,-1.27, -0.35,-1.27, -0.4,-1.45, -0.55,-1.3, -0.2,-1.13, -0.3,-1.1, -0.1,-1.35, 0.08,-0.95, 0.26,-0.8, 0.2,-1.2, -0.2,-1.5, -0.4,-1.25, -0.7,-1.58, -0.3,-1.83, -0.6,-1.32, 0.1,-0.9, 0.15,-0.7, 0.29,-0.75, 0.04,-0.85, 0,-1.3, -0.05,-1.37, -0.4,-0.95, 0.03,-0.7, 0.05,-0.85, 0.13,-0.9, 0,-0.95, -0.1,-1.35, -0.35,-1.67, -0.6,-1.62, -0.5,-1.37, -0.2,-1.2, -0.15,-1.3, -0.35,-1.47, -0.25,-1.4, -0.3,-1.25, -0.2,-1.25, -0.45,-1.49, 0.26,-0.65, 0.2,-0.7, -0.05,-1.15, -0.1,-1.05, -0.05,-1.1, -0.4,-1.43, 0.08,-1.1, 0.18,-0.95, -0.15,-1.05, -0.15,-1.3, -0.25,-1.25, -0.1,-1.15, -0.05,-1.2, -0.6,-1.32];
const f2Lstm5 = [-1.15,-0.9, -0.3,-0.95, -0.08,-0.75, -0.2,-0.8, -0.2,-0.8, -0.2,-1.1, -0.25,-0.95, -0.05,-0.65, -0.2,-0.85, -0.3,-0.95, -0.45,-1.15, -0.5,-1.17, -0.5,-1.15, -0.55,-1.2, -0.5,-1, -0.22,-1, -0.3,-1.1, -0.45,-1.2, -0.5,-0.95, -0.5,-1.15, -0.45,-1.05, -0.5,-1.1, -0.45,-1, -0.35,-0.8, -0.05,-0.55, -0.15,-1.18, -0.4,-1.2, -0.4,-1.05, -0.45,-1.1, -0.5,-1.05, -0.55,-1, -0.55,-0.9, -0.1,-0.55, 0.05,-0.5, 0,-0.6, 0.02,-0.75, -0.2,-1.27, -0.35,-1.1, -0.5,-0.95, -0.4,-0.85, -0.35,-0.85, -0.3,-0.85, -0.15,-0.9, -0.35,-1.05, -0.5,-1.25, -0.5,-1.25, -0.55,-1.15, -0.55,-1.05, -0.5,-1, -0.35,-0.95, -0.3,-1, -0.45,-1.15, -0.25,-1.25, -0.5,-1.05, -0.2,-0.8, -0.05,-0.75, -0.25,-0.95, -0.3,-1.05, -0.35,-1.15, -0.4,-1.2, -0.35,-1.15, -0.2,-1, -0.4,-1.1, -0.35,-1.15, -0.35,-1.1, -0.4,-1.2, -0.4,-1.2];

const f2Model6 = [-0.3,-1.2, -0.3,-1.45, -0.05,-1.2, 0.13,-1.6, -0.15,-1.45, -0.5,-1.8, -0.4,-2.27, -0.45,-1.9, -0.45,-1.3, -0.4,-1.2, 0.05,-1.45, -0.55,-2.1, -0.55,-1.35, -0.2,-1.75, 0.2,-1.95, -0.25,-1.55, -0.2,-2.2, -0.3,-1.7, -0.35,-1.8, -0.1,-1.6, 0.14,-1.8, -0.25,-1.3, 0.1,-1.35, -0.2,-1.15, -0.2,-1.25, -0.3,-1.45, -0.3,-2.05, -0.45,-1.6, -0.45,-1.6, 0.03,-1.8, -0.1,-1.3, 0.2,-1.4, -0.1,-1.5, 0.05,-1.5, 0.05,-1.75, -0.5,-1.8, -0.5,-2.05, -0.4,-2.1, -0.3,-1.6, -0.1,-1.25, -0.15,-1.6, -0.15,-1.45, -0.2,-1.5, -0.5,-1.9, -0.3,-2, -0.05,-1.65, -0.05,-1.5, -0.3,-1.2, 0.35,-1.65, -0.05,-1.7, -0.15,-2.1, -0.05,-1.4, 0.02,-1.6, -0.1,-2.25, -0.05,-1.7, -0.1,-2, -0.15,-1.9, -0.1,-2.1, 0.29,-1.9, 0.29,-1.3, 0.28,-1.55, -0.25,-1.65, -0.3,-1.4, 0.15,-2.05, -0.3,-1.45, -0.25,-1.3];
const f2Lstm6 = [-0.5,-1.2, -0.2,-1.35, -0.3,-1, -0.5,-1.5, -0.7,-1.55, -0.75,-1.6, -0.8,-1.65, -0.55,-1.2, -0.45,-1.1, -0.4,-1.3, -0.5,-1.5, -0.55,-1.3, -0.5,-1.2, -0.45,-1.25, -0.35,-1.35, -0.55,-1.5, -0.6,-1.45, -0.3,-1.1, -0.2,-0.95, -0.2,-1.05, -0.3,-1.1, -0.45,-1.2, -0.5,-1.3, -0.5,-1.4, -0.4,-1.1, -0.3,-1, -0.35,-1.1, -0.5,-1.2, -0.5,-1.2, -0.5,-1.25, -0.45,-1.4, -0.5,-1.57, -0.5,-1.2, -0.3,-1.05, -0.6,-1.2, -0.65,-1.35, -0.7,-1.25, -0.6,-1.2, -0.65,-1.3, -0.6,-1.15, -0.4,-1, -0.3,-1.2, -0.3,-1.1, -0.2,-1.15, -0.25,-1.1, -0.25,-1.05, -0.2,-1, -0.2,-1.2, -0.55,-1.5, -0.6,-1.45, -0.55,-1.35, -0.5,-1.3, -0.45,-1.2, -0.4,-1.15, -0.35,-1.3, -0.35,-1.35, -0.3,-1.25, -0.4,-1.2, -0.4,-1.25];

const modelSeries = [f1Model1, f1Model2, f1Model3, f1Model4, f1Model5, f1Model6, f2Model1, f2Model2, f2Model3, f2Model4, f2Model5, f2Model6];
const lstmSeries = [f1Lstm1, f1Lstm2, f1Lstm3, f1Lstm4, f1Lstm5, f1Lstm6, f2Lstm1, f2Lstm2, f2Lstm3, f2Lstm4, f2Lstm5, f2Lstm6];

// style and layout
const colLeft = [127, 750, 1373];
const rowTop = [59, 604, 1311, 1857];
const plotW = 475, plotH = 394;
const marginL = 126, marginR = 30, marginT = 55, marginB = 80;
const timeShift = [12, -3, -3, -3];
const textColor = '#3a3a3a', frameColor = '#4a4a4a';
const blue = '#0f76bb', red = 'rgba(240,24,34,0.8)';
const dashOn = 12, dashOff = 8;
const tickFont = { family: '"DejaVu Sans"', size: 23.5 };
const labelFont = '"DejaVu Sans"';

// every dash starts from the y pixel so they line up in bands across the cycles
function bandOffset(ctx) {
  const period = dashOn + dashOff;
  const y = ctx.p0.y;
  const off = ctx.p1.y < y ? -y : y + dashOn;
  return ((off % period) + period) % period;
}

const panelFrame = {
  id: 'panelFrame',
  afterDatasetsDraw(chart, args, opts) {
    const { ctx, chartArea: a, scales } = chart;
    ctx.save();
    ctx.strokeStyle = frameColor;
    ctx.lineWidth = 1.6;
    ctx.strokeRect(a.left, a.top, a.width, a.height);
    ctx.lineWidth = 1.3;
    ctx.beginPath();
    scales.x.ticks.forEach(t => {
      const x = scales.x.getPixelForValue(t.value);
      ctx.moveTo(x, a.bottom); ctx.lineTo(x, a.bottom - 5);
      ctx.moveTo(x, a.top); ctx.lineTo(x, a.top + 5);
    });
    scales.y.ticks.forEach(t => {
      const y = scales.y.getPixelForValue(t.value);
      ctx.moveTo(a.left, y); ctx.lineTo(a.left + 5, y);
      ctx.moveTo(a.right, y); ctx.lineTo(a.right - 5, y);
    });
    ctx.stroke();
    if (opts.showLegend) drawLegend(chart);
    ctx.restore();
  },
  afterDraw(chart, args, opts) {
    const { ctx, chartArea: a, scales } = chart;
    ctx.save();
    // title, the alpha is in italic serif like the math font of the original
    const parts = opts.title.split('α');
    const bold = 'bold 27.5px ' + labelFont, ital = 'italic 30px "Liberation Serif"';
    ctx.textBaseline = 'middle';
    ctx.fillStyle = '#111';
    ctx.font = bold;
    const w0 = ctx.measureText(parts[0]).width, w2 = ctx.measureText(parts[1]).width;
    ctx.font = ital;
    const w1 = ctx.measureText('α').width;
    let x = (a.left + a.right) / 2 - (w0 + w1 + w2) / 2;
    const ty = a.top - 21;
    ctx.font = bold; ctx.fillText(parts[0], x, ty); x += w0;
    ctx.font = ital; ctx.fillText('α', x, ty); x += w1;
    ctx.font = bold; ctx.fillText(parts[1], x, ty);

    // x label sits a little off centre in the original
    ctx.fillStyle = textColor;
    ctx.font = '26px ' + labelFont;
    ctx.textAlign = 'center';
    ctx.fillText('time (s)', (a.left + a.right) / 2 + opts.timeShift, a.bottom + 59);
    ctx.textAlign = 'left';

    // y label with subscript
    ctx.font = tickFont.size + 'px ' + labelFont;
    let widest = 0;
    scales.y.ticks.forEach(t => { widest = Math.max(widest, ctx.measureText(t.label).width); });
    const main = '26px ' + labelFont, sub = '20px ' + labelFont;
    const tail = '  (m)';
    ctx.font = main;
    const wq = ctx.measureText('q').width, wt = ctx.measureText(tail).width;
    ctx.font = sub;
    const ws = ctx.measureText(opts.sub).width;
    ctx.translate(a.left - widest - 41, (a.top + a.bottom) / 2);
    ctx.rotate(-Math.PI / 2);
    ctx.textBaseline = 'alphabetic';
    let p = -(wq + ws + wt) / 2;
    ctx.font = main; ctx.fillText('q', p, 7); p += wq;
    ctx.font = sub; ctx.fillText(opts.sub, p, 14); p += ws;
    ctx.font = main; ctx.fillText(tail, p, 7);
    ctx.restore();
  }
};

function drawLegend(chart) {
  const { ctx, chartArea: a } = chart;
  const w = 331, h = 60, x = a.right - 12 - w, y = a.top + 13;
  ctx.fillStyle = '#fff';
  ctx.fillRect(x, y, w, h);
  ctx.strokeStyle = '#333';
  ctx.lineWidth = 1.4;
  ctx.strokeRect(x, y, w, h);
  ctx.font = '22.3px ' + labelFont;
  ctx.textBaseline = 'middle';
  chart.data.datasets.forEach((ds, i) => {
    const ly = y + 16 + i * 29;
    ctx.strokeStyle = ds.borderColor;
    ctx.lineWidth = 1.7;
    ctx.setLineDash(i ? [dashOn, dashOff] : []);
    ctx.beginPath();
    ctx.moveTo(x + 6, ly); ctx.lineTo(x + 51, ly);
    ctx.stroke();
    ctx.setLineDash([]);
    ctx.fillStyle = textColor;
    ctx.fillText(ds.label, x + 55, ly);
  });
}

function toPoints(values) {
  const dt = 600 / (values.length - 1);
  return values.map((v, i) => ({ x: i * dt, y: v }));
}

function makePanel(row, col, index) {
  const canvas = document.createElement('canvas');
  canvas.width = marginL + plotW + marginR;
  canvas.height = marginT + plotH + marginB;
  canvas.style.left = (colLeft[col] - marginL) + 'px';
  canvas.style.top = (rowTop[row] - marginT) + 'px';
  document.getElementById('page').appendChild(canvas);
  const isF1 = row < 2;
  const yTicks = (isF1 ? f1YTicks : f2YTicks)[index];
  new Chart(canvas, {
    type: 'line',
    data: {
      datasets: [
        { label: 'Numerical model results', data: toPoints(modelSeries[(isF1 ? 0 : 6) + index]),
          borderColor: blue, borderWidth: 2.2, pointRadius: 0, tension: 0, order: 2, borderJoinStyle: 'bevel' },
        { label: 'LSTM predictions', data: toPoints(lstmSeries[(isF1 ? 0 : 6) + index]),
          borderColor: red, borderWidth: 2.1, pointRadius: 0, tension: 0, order: 1, borderJoinStyle: 'bevel',
          borderDash: [dashOn, dashOff],
          segment: { borderDash: [dashOn, dashOff], borderDashOffset: bandOffset } }
      ]
    },
    plugins: [panelFrame],
    options: {
      responsive: false,
      animation: false,
      devicePixelRatio: 1,
      layout: { padding: { top: marginT, right: marginR, left: 0, bottom: 0 } },
      plugins: {
        legend: { display: false },
        tooltip: { enabled: false },
        panelFrame: { title: titles[index], sub: isF1 ? 'B1F1' : 'B1F2', showLegend: index === 5, timeShift: timeShift[row] }
      },
      scales: {
        x: {
          type: 'linear', min: 0, max: 600,
          grid: { display: false }, border: { display: false },
          afterBuildTicks: s => { s.ticks = xTicks.map(v => ({ value: v })); },
          afterFit: s => { s.height = marginB; },
          ticks: { color: textColor, font: tickFont, padding: 10, maxRotation: 0, autoSkip: false, callback: v => String(v) }
        },
        y: {
          type: 'linear', min: yTicks[0], max: yTicks[yTicks.length - 1],
          grid: { display: false }, border: { display: false },
          afterBuildTicks: s => { s.ticks = yTicks.map(v => ({ value: v })); },
          afterFit: s => { s.width = marginL; },
          ticks: { color: textColor, font: tickFont, padding: 10, autoSkip: false, callback: v => String(v) }
        }
      }
    }
  });
}

for (let r = 0; r < 4; r++) {
  for (let c = 0; c < 3; c++) {
    makePanel(r, c, (r % 2) * 3 + c);
  }
}
</script>
</body>
</html>
